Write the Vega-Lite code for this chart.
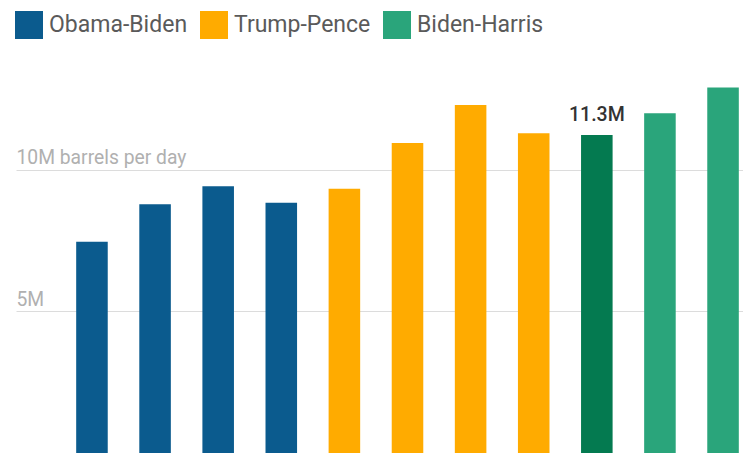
{
  "$schema": "https://vega.github.io/schema/vega-lite/v6.json",
  "width": 727,
  "height": 453,
  "autosize": {"type": "none"},
  "padding": {"left": 16, "top": 0, "right": 0, "bottom": 0},
  "background": "white",
  "config": {
    "view": {"stroke": null},
    "font": "Roboto",
    "legend": {"padding": 0}
  },
  "data": {
    "values": [
      {"year": 2013, "value": 7.46, "admin": "Obama-Biden", "label": ""},
      {"year": 2014, "value": 8.79, "admin": "Obama-Biden", "label": ""},
      {"year": 2015, "value": 9.42, "admin": "Obama-Biden", "label": ""},
      {"year": 2016, "value": 8.84, "admin": "Obama-Biden", "label": ""},
      {"year": 2017, "value": 9.33, "admin": "Trump-Pence", "label": ""},
      {"year": 2018, "value": 10.95, "admin": "Trump-Pence", "label": ""},
      {"year": 2019, "value": 12.29, "admin": "Trump-Pence", "label": ""},
      {"year": 2020, "value": 11.29, "admin": "Trump-Pence", "label": ""},
      {"year": 2021, "value": 11.23, "admin": "Biden-Harris", "label": "11.3M"},
      {"year": 2022, "value": 12.0, "admin": "Biden-Harris", "label": ""},
      {"year": 2023, "value": 12.91, "admin": "Biden-Harris", "label": ""}
    ]
  },
  "encoding": {
    "x": {
      "field": "year",
      "type": "ordinal",
      "axis": null,
      "scale": {"paddingInner": 0.5, "paddingOuter": 0.51, "align": 0.935}
    },
    "y": {
      "field": "value",
      "type": "quantitative",
      "scale": {"domain": [0, 16], "nice": false},
      "axis": {
        "values": [5, 10],
        "title": null,
        "domain": false,
        "ticks": false,
        "grid": true,
        "gridColor": "#dcdcdc",
        "gridWidth": 1,
        "labelAlign": "left",
        "labelBaseline": "alphabetic",
        "labelPadding": 0,
        "labelOffset": -6,
        "labelFontSize": 19.3,
        "labelColor": "#b0b0b0",
        "labelExpr": "datum.value == 10 ? '10M barrels per day' : datum.value + 'M'"
      }
    }
  },
  "layer": [
    {
      "mark": {"type": "bar"},
      "encoding": {
        "color": {
          "condition": {"test": "datum.year === 2021", "value": "#047a50"},
          "field": "admin",
          "type": "nominal",
          "scale": {
            "domain": ["Obama-Biden", "Trump-Pence", "Biden-Harris"],
            "range": ["#0b5b8e", "#ffab00", "#2aa57b"]
          },
          "legend": {
            "title": null,
            "orient": "none",
            "legendX": -1,
            "legendY": 11,
            "direction": "horizontal",
            "symbolType": "square",
            "symbolSize": 784,
            "symbolStrokeWidth": 0,
            "symbolOpacity": 1,
            "labelFontSize": 23,
            "labelColor": "#5a5a5a",
            "labelOffset": 6,
            "columnPadding": 12
          }
        }
      }
    },
    {
      "mark": {"type": "text", "dy": -14, "baseline": "alphabetic", "fontSize": 19.5, "fontWeight": 500, "color": "#333333"},
      "encoding": {"text": {"field": "label"}}
    }
  ]
}
